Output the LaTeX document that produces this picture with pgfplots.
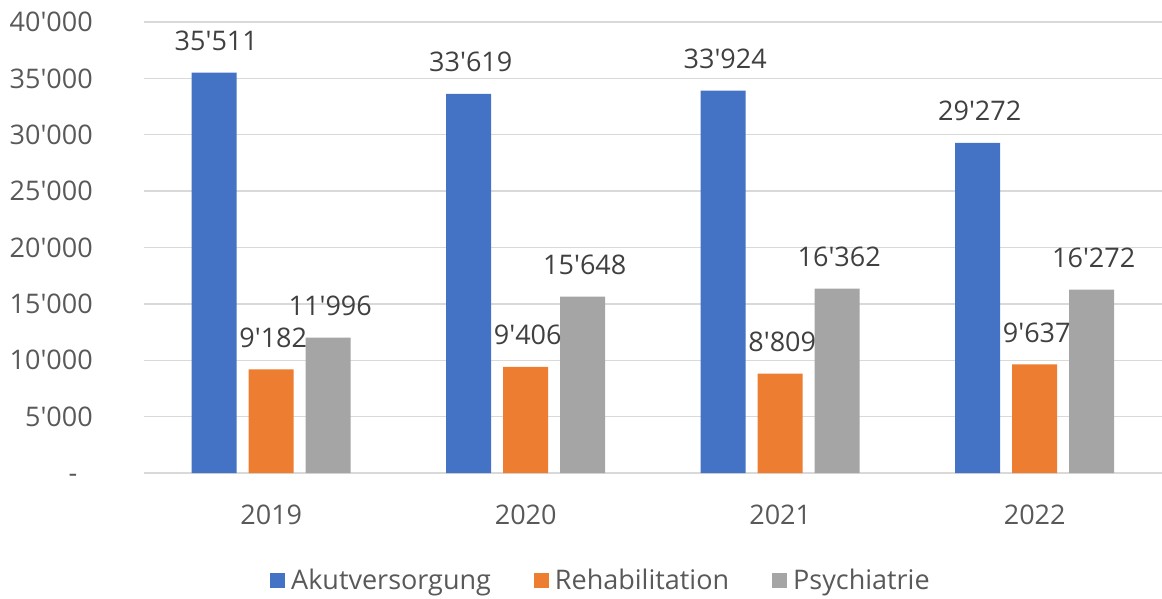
\documentclass[border=0pt]{standalone}
\usepackage{pgfplots}
\pgfplotsset{compat=1.18}
\usepackage{fontspec}
\setmainfont{Open Sans}
\definecolor{cBlue}{HTML}{4472C4}
\definecolor{cOrange}{HTML}{ED7D31}
\definecolor{cGray}{HTML}{A5A5A5}
\definecolor{cGrid}{HTML}{D9D9D9}
\definecolor{cTick}{HTML}{595959}
\definecolor{cLab}{HTML}{404040}
\begin{document}
\begin{tikzpicture}
\begin{axis}[
  at={(144pt,125pt)}, anchor=south west,
  width=1018pt, height=451pt, scale only axis,
  ybar=12pt, bar width=45pt,
  xmin=-0.5, xmax=3.5, ymin=0, ymax=40000,
  scaled y ticks=false,
  xtick={0,1,2,3}, xticklabels={2019,2020,2021,2022},
  ytick={0,5000,10000,15000,20000,25000,30000,35000,40000},
  yticklabels={{-\hphantom{0}\vphantom{0}},{5\textquotesingle000},{10\textquotesingle000},{15\textquotesingle000},{20\textquotesingle000},{25\textquotesingle000},{30\textquotesingle000},{35\textquotesingle000},{40\textquotesingle000}},
  axis line style={draw=none},
  major tick length=0pt,
  ymajorgrids, grid style={cGrid, line width=1.3pt},
  tick label style={font=\fontsize{27}{32}\selectfont, text=cTick},
  xticklabel style={inner sep=0pt, anchor=north, yshift=-32pt},
  yticklabel style={inner sep=0pt, anchor=east, xshift=-51pt},
  /pgf/number format/.cd, fixed, precision=0, 1000 sep={\textquotesingle}, assume math mode=true,
  /pgfplots/.cd,
  nodes near coords,
  every node near coord/.append style={anchor=base, xshift=2pt, yshift=22pt, font=\fontsize{27}{32}\selectfont, text=cLab},
  clip=false,
  legend columns=3,
  legend style={at={(rel axis cs:0,0)}, anchor=west, xshift=126pt, yshift=-107pt,
    draw=none, fill=none, inner sep=0pt,
    font=\fontsize{27}{32}\selectfont, text=cTick,
    nodes={inner sep=3pt},
    /tikz/every odd column/.append style={column sep=3pt},
    /tikz/every even column/.append style={column sep=40pt}},
  legend image code/.code={\fill[#1] (0pt,-7.5pt) rectangle (15pt,7.5pt);},
]
\addplot[fill=cBlue, draw=none] coordinates {(0,35511) (1,33619) (2,33924) (3,29272)};
\addplot[fill=cOrange, draw=none] coordinates {(0,9182) (1,9406) (2,8809) (3,9637)};
\addplot[fill=cGray, draw=none] coordinates {(0,11996) (1,15648) (2,16362) (3,16272)};
\legend{Akutversorgung, Rehabilitation, Psychiatrie}
\end{axis}
\pgfresetboundingbox
\useasboundingbox (0,0) rectangle (1162pt,598pt);
\end{tikzpicture}
\end{document}
